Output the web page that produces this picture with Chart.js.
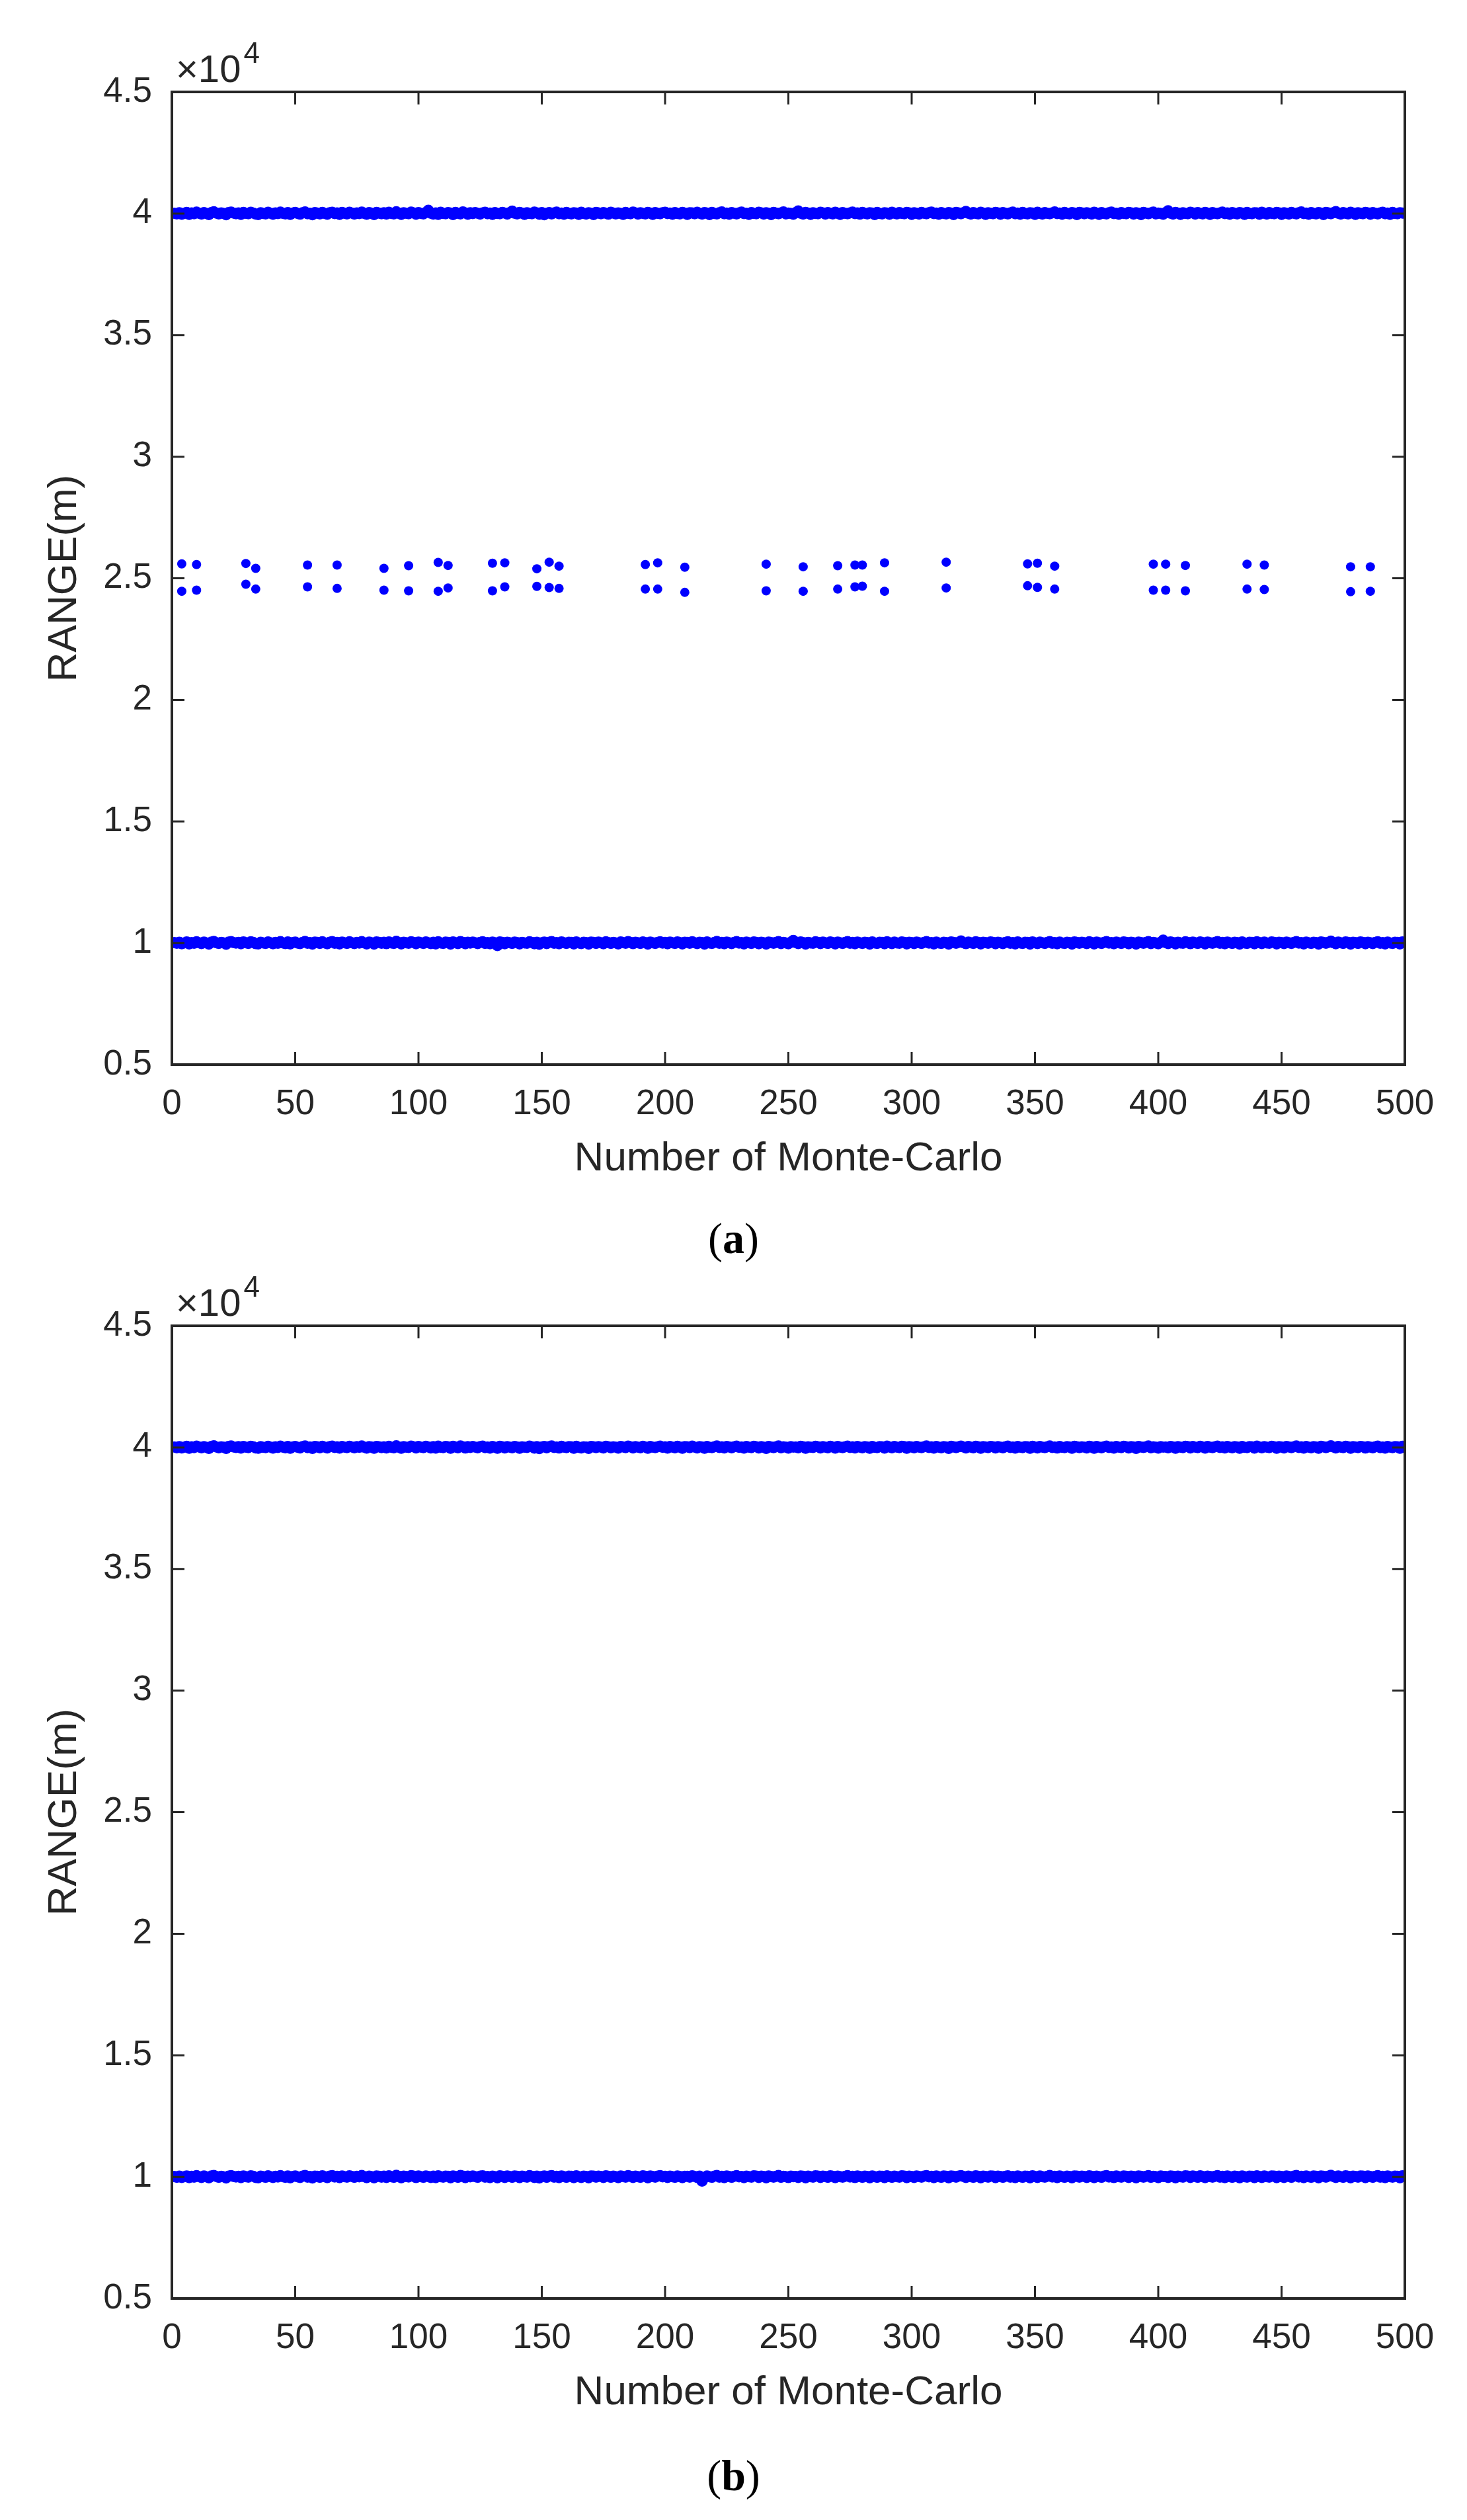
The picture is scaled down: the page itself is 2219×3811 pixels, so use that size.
<!DOCTYPE html>
<html><head><meta charset="utf-8">
<script src="https://cdn.jsdelivr.net/npm/chart.js@4.4.1/dist/chart.umd.min.js"></script>
<style>
html,body{margin:0;padding:0;background:#fff;}
body{width:2219px;height:3811px;position:relative;overflow:hidden;}
.wrap{position:absolute;left:0;width:2219px;height:1800px;}
.cap{position:absolute;left:0;width:2219px;text-align:center;font-family:"Liberation Serif","Times New Roman",serif;font-size:66px;color:#000;line-height:66px;}
</style></head><body>
<div class="wrap" style="top:0"><canvas id="ca"></canvas></div>
<div class="wrap" style="top:1866px"><canvas id="cb"></canvas></div>
<div class="cap" style="top:1840px">(<b>a</b>)</div>
<div class="cap" style="top:3711px">(<b>b</b>)</div>
<script>
const xTicks = [0,50,100,150,200,250,300,350,400,450,500];
const yTicks = [5000,10000,15000,20000,25000,30000,35000,40000,45000];
const trials = Array.from({length:500},(_,i)=>i+1);

const aFar = [
40012,39985,40030,39970,40008,40046,39962,40021,39990,40055,40010,39978,40034,40002,39955,40040,40068,40015,39980,40025,40005,39948,40036,40060,40018,
39992,40027,39966,40044,40009,39987,40052,40020,39975,39958,40031,40003,39984,40048,40011,39969,40024,39995,40058,40007,39981,40039,39960,40016,40042,
40001,39973,40029,40066,39989,40013,39952,40037,40019,39983,40047,40006,39971,40033,40054,39994,40022,39964,40041,40008,39986,40050,40015,39977,40026,
39998,40061,40004,39968,40035,40012,39957,40043,40020,39990,40028,39975,40049,40002,39982,40071,40017,39961,40032,40009,39993,40055,40024,39972,40038,
40006,39985,40045,40130,40012,39976,40027,39966,40051,40003,39988,40036,40019,39959,40044,40011,39980,40063,40023,39970,40030,39996,40040,40008,39979,
40025,40052,39987,40014,39965,40037,40005,39990,40047,40020,39974,40031,40098,40010,39983,40042,40017,39962,40028,40004,39992,40056,40021,39969,40034,
39946,40011,40039,39981,40026,40060,39993,40016,39971,40045,40007,39986,40033,40019,39964,40048,40002,39977,40030,40013,39955,40041,40024,39988,40036,
40009,39973,40050,40018,39984,40027,40003,39966,40044,40012,39991,40058,40021,39975,40032,40006,39982,40047,40016,39960,40039,40010,39987,40029,40054,
39996,40020,39970,40037,40005,39983,40046,40014,39963,40031,40022,39989,40052,40008,39976,40035,40017,39958,40043,40001,39985,40028,40066,39993,40019,
39972,40040,40011,39980,40025,40057,39998,40013,39965,40038,40006,39987,40049,40023,39974,40030,40009,39956,40042,40015,39990,40027,40062,39981,40020,
40004,39969,40034,40108,40012,39979,40045,40018,39961,40029,40003,39992,40051,40024,39977,40036,40010,39984,40048,40016,39966,40039,40007,39988,40026,
40059,39995,40021,39973,40041,40008,39982,40033,40015,39959,40044,40002,39986,40030,40020,39970,40053,40011,39980,40037,40005,39990,40047,40025,39964,
40032,40013,39978,40042,40009,39987,40028,40061,39996,40018,39968,40040,40004,39983,40035,40016,39957,40046,40022,39991,40029,40087,40010,39975,40038,
40006,39984,40050,40019,39962,40031,40012,39989,40044,40024,39972,40036,40008,39981,40027,40055,39993,40015,39967,40043,40003,39986,40032,40020,39960,
40048,40011,39977,40039,40007,39988,40025,40063,39995,40017,39971,40041,40002,39985,40034,40014,39958,40045,40023,39990,40030,40009,39976,40052,40018,
39963,40037,40005,39983,40028,40057,39997,40012,39969,40040,40006,39987,40046,40021,39974,40033,40010,39956,40042,40016,39992,40026,40060,39980,40019,
40003,39970,40035,40114,40013,39978,40044,40017,39962,40030,40004,39991,40050,40025,39975,40037,40009,39985,40047,40015,39965,40038,40008,39989,40027,
40058,39994,40022,39972,40040,40007,39983,40034,40014,39960,40043,40001,39988,40031,40021,39969,40052,40012,39979,40036,40004,39991,40046,40024,39963,
40033,40012,39977,40041,40010,39986,40029,40062,39997,40017,39967,40039,40005,39982,40034,40017,39958,40045,40021,39990,40028,40077,40011,39974,40037,
40007,39985,40049,40020,39961,40032,40013,39988,40043,40023,39971,40035,40009,39980,40026,40054,39992,40016,39966,40042,40004,39987,40031,40019,40010
];
const aNear = [
10015,9988,10032,9972,10006,10044,9965,10020,9991,10053,10008,9976,10036,10001,9957,10038,10066,10013,9982,10027,10003,9950,10034,10058,10016,
9994,10025,9968,10042,10011,9985,10050,10022,9973,9960,10029,10005,9982,10046,10009,9971,10026,9993,10060,10005,9979,10041,9962,10014,10040,
9999,9975,10027,10064,9987,10015,9954,10035,10021,9981,10049,10004,9969,10031,10056,9992,10024,9966,10039,10010,9984,10052,10013,9979,10024,
10000,10059,10006,9966,10037,10010,9959,10041,10022,9988,10030,9973,10047,10004,9980,10069,10019,9963,10030,10011,9991,10053,10026,9970,10036,
10008,9983,10043,10012,9974,10029,9964,10049,10005,9986,10034,10021,9957,10042,10013,9978,10061,10025,9968,10032,9994,10038,10010,9977,10027,
10050,9985,10016,9967,10035,10007,9892,10045,10022,9972,10033,10010,9981,10040,10019,9960,10026,10006,9990,10054,10023,9967,10032,9948,10013,
10037,9979,10028,10058,9991,10018,9969,10043,10009,9984,10031,10021,9962,10046,10004,9975,10028,10015,9953,10039,10026,9986,10034,10011,9971,
10048,10020,9982,10025,10005,9964,10042,10014,9989,10056,10023,9973,10030,10008,9980,10045,10018,9958,10037,10012,9985,10027,10052,9998,10022,
9968,10035,10007,9981,10044,10016,9961,10029,10024,9987,10050,10010,9974,10033,10019,9956,10041,10003,9983,10026,10064,9991,10021,9970,10038,
10013,9978,10023,10055,10000,10015,9963,10036,10008,9985,10047,10025,9972,10028,10011,9954,10040,10017,9988,10025,10060,9979,10022,10006,9967,
10032,10105,10014,9977,10043,10020,9959,10027,10005,9990,10049,10026,9975,10034,10011,9982,10046,10018,9964,10036,10009,9986,10024,10057,9993,
10023,9971,10039,10010,9980,10031,10017,9957,10042,10004,9984,10028,10022,9968,10051,10013,9978,10035,10006,9988,10045,10027,9962,10030,10015,
9976,10040,10011,9985,10026,10059,9997,10020,9966,10038,10006,9981,10033,10018,9955,10044,10024,9989,10027,10085,10012,9973,10036,10008,9982,
10048,10021,9960,10029,10014,9987,10042,10025,9970,10033,10010,9979,10024,10052,9991,10017,9965,10041,10005,9984,10030,10022,9958,10046,10013,
9975,10037,10009,9986,10023,10061,9993,10019,9969,10039,10004,9983,10032,10016,9956,10043,10025,9988,10028,10011,9974,10050,10020,9961,10035,
10007,9981,10026,10055,9995,10014,9967,10038,10008,9985,10044,10023,9972,10031,10012,9954,10040,10018,9990,10024,10058,9978,10021,10005,9968,
10033,10120,10015,9976,10042,10019,9960,10028,10006,9989,10048,10027,9973,10035,10011,9983,10045,10017,9963,10036,10010,9987,10025,10056,9992,
10024,9970,10038,10009,9981,10032,10016,9958,10041,10003,9986,10029,10023,9967,10050,10014,9977,10034,10006,9989,10044,10026,9961,10031,10014,
9975,10039,10012,9984,10027,10060,9995,10019,9965,10037,10007,9980,10032,10019,9956,10043,10023,9988,10026,10075,10013,9972,10035,10009,9983,
10047,10022,9959,10030,10015,9986,10041,10025,9969,10033,10011,9978,10024,10052,9990,10018,9964,10040,10006,9985,10029,10021,9960,10046,10008
];
const bFar = [
40018,39983,40028,39974,40010,40042,39966,40025,39988,40051,40014,39980,40032,40005,39958,40036,40062,40017,39984,40023,40008,39953,40034,40056,40020,
39995,40029,39969,40040,40012,39990,40047,40023,39978,39962,40033,40006,39987,40044,40013,39972,40027,39998,40054,40010,39984,40037,39964,40019,40039,
40004,39976,40031,40061,39992,40016,39956,40035,40022,39986,40044,40009,39974,40030,40052,39997,40025,39967,40038,40011,39989,40046,40018,39980,40028,
40001,40057,40007,39971,40033,40015,39961,40040,40023,39993,40026,39978,40045,40005,39985,40066,40020,39964,40030,40012,39996,40051,40027,39975,40036,
40009,39988,40041,40015,39977,40030,39968,40048,40006,39991,40034,40022,39962,40041,40014,39983,40059,40026,39973,40031,39999,40037,40011,39982,40028,
40049,39990,40017,39970,40034,40008,39963,40043,40023,39977,40032,40012,39985,40039,40020,39965,40026,40009,39994,40052,40024,39972,40031,39952,40015,
40036,39982,40029,40055,39994,40019,39973,40041,40010,39988,40030,40022,39966,40044,40006,39979,40027,40016,39958,40037,40027,39990,40033,40013,39975,
40046,40021,39986,40026,40008,39969,40040,40015,39993,40053,40024,39978,40030,40010,39984,40043,40019,39962,40036,40013,39989,40027,40050,40001,40023,
39972,40034,40009,39985,40042,40017,39965,40029,40025,39991,40048,40012,39978,40033,40020,39960,40039,40005,39987,40026,40061,39994,40022,39974,40037,
40015,39982,40023,40053,40003,40016,39967,40035,40010,39989,40045,40026,39976,40028,40013,39958,40039,40018,39992,40025,40057,39983,40022,40008,39971,
40032,40009,40015,39981,40041,40021,39963,40027,40007,39994,40047,40027,39979,40033,40013,39986,40044,40019,39968,40035,40011,39990,40024,40054,39996,
40023,39975,40037,40012,39984,40031,40018,39961,40040,40006,39988,40028,40023,39972,40049,40015,39982,40034,40008,39992,40043,40028,39966,40030,40016,
39980,40038,40013,39989,40026,40056,40000,40021,39970,40037,40008,39985,40032,40019,39959,40042,40025,39993,40027,40051,40014,39977,40035,40010,39986,
40046,40022,39964,40029,40016,39991,40040,40026,39974,40032,40012,39983,40024,40049,39994,40018,39969,40039,40007,39988,40030,40023,39962,40044,40015,
39979,40036,40011,39990,40023,40058,39996,40020,39973,40038,40006,39987,40031,40017,39960,40041,40026,39992,40027,40013,39978,40047,40021,39965,40034,
40009,39985,40026,40052,39998,40015,39971,40037,40010,39989,40042,40024,39976,40030,40014,39958,40039,40019,39994,40024,40055,39982,40021,40007,39972,
40033,40012,40016,39980,40040,40020,39964,40028,40008,39993,40046,40028,39977,40034,40012,39987,40043,40018,39967,40035,40012,39991,40025,40053,39995,
40024,39974,40037,40011,39985,40031,40017,39962,40039,40005,39990,40028,40024,39971,40048,40016,39981,40033,40008,39993,40042,40027,39965,40030,40016,
39979,40037,40014,39988,40026,40057,39998,40021,39969,40036,40009,39984,40032,40020,39960,40041,40024,39992,40026,40064,40014,39976,40034,40011,39987,
40045,40023,39963,40029,40017,39990,40040,40026,39973,40032,40013,39982,40024,40050,39993,40019,39968,40039,40008,39989,40030,40022,39964,40043,40016
];
const bNear = [
10019,9985,10029,9975,10012,10040,9968,10023,9990,10049,10012,9979,10034,10004,9960,10035,10060,10015,9985,10024,10006,9955,10032,10054,10018,
9996,10027,9971,10039,10013,9988,10045,10021,9976,9963,10031,10008,9985,10042,10011,9974,10025,9996,10052,10008,9982,10036,9966,10017,10037,
10002,9978,10029,10058,9990,10017,9958,10033,10024,9984,10046,10007,9972,10029,10050,9995,10023,9969,10036,10013,9987,10044,10016,9982,10026,
10003,10055,10009,9969,10031,10013,9962,10038,10025,9991,10028,9976,10043,10007,9983,10063,10021,9966,10028,10014,9994,10049,10029,9973,10034,
10011,9986,10039,10017,9979,10032,9970,10046,10008,9989,10032,10024,9964,10039,10016,9981,10057,10028,9971,10030,10001,10035,10013,9980,10030,
10047,9988,10015,9972,10032,10010,9965,10041,10025,9975,10034,10014,9983,10037,10022,9967,10028,10011,9992,10050,10026,9974,10033,9956,10017,
10034,9980,10031,10053,9992,10021,9971,10039,10012,9986,10028,10024,9968,10042,10008,9977,10029,10018,9960,10035,10029,9988,10031,10015,9977,
10044,10023,9984,10028,10010,9971,10038,10017,9991,10051,10026,9976,10032,10012,9982,10041,10021,9964,10034,10015,9987,10029,10048,10003,10025,
9974,10032,10011,9983,10040,10019,9967,10027,10023,9989,10046,10014,9976,10031,9830,9962,10037,10007,9985,10028,10059,9992,10024,9972,10035,
10017,9980,10025,10051,10005,10018,9969,10033,10012,9987,10043,10028,9974,10030,10015,9960,10037,10020,9990,10027,10055,9981,10024,10010,9973,
10030,10007,10017,9979,10039,10023,9965,10029,10009,9992,10045,10029,9977,10031,10015,9984,10042,10021,9970,10033,10013,9988,10026,10052,9994,
10025,9973,10035,10014,9982,10033,10020,9963,10038,10008,9986,10030,10025,9970,10047,10017,9980,10032,10010,9990,10041,10030,9968,10028,10018,
9978,10036,10015,9987,10028,10054,10002,10023,9972,10035,10010,9983,10034,10021,9961,10040,10027,9991,10029,10049,10016,9975,10033,10012,9984,
10044,10024,9966,10031,10018,9989,10038,10028,9972,10030,10014,9981,10026,10047,9992,10020,9971,10037,10009,9986,10032,10025,9964,10042,10017,
9977,10034,10013,9988,10025,10056,9994,10022,9971,10036,10008,9985,10033,10019,9962,10039,10028,9990,10029,10015,9976,10045,10023,9967,10032,
10011,9983,10028,10050,9996,10017,9973,10035,10012,9987,10040,10026,9974,10032,10016,9960,10037,10021,9992,10026,10053,9980,10023,10009,9970,
10035,10014,10018,9978,10038,10022,9966,10030,10010,9991,10044,10030,9975,10036,10014,9985,10041,10020,9969,10033,10014,9989,10027,10051,9993,
10026,9972,10035,10013,9983,10033,10019,9964,10037,10007,9988,10030,10026,9969,10046,10018,9979,10035,10010,9991,10040,10029,9967,10032,10018,
9977,10035,10016,9986,10028,10055,10000,10023,9971,10034,10011,9982,10034,10022,9962,10039,10026,9990,10028,10062,10016,9974,10036,10013,9985,
10043,10025,9965,10031,10019,9988,10038,10028,9971,10034,10015,9980,10026,10048,9991,10021,9970,10037,10010,9987,10032,10024,9966,10041,10018
];
const sparseX = [4,10,30,34,55,67,86,96,108,112,130,135,148,153,157,192,197,208,241,256,270,277,280,289,314,347,351,358,398,403,411,436,443,478,486];
const sparseHigh = [25590,25563,25608,25408,25544,25544,25408,25517,25653,25526,25617,25635,25390,25662,25499,25563,25635,25454,25581,25472,
25517,25544,25544,25635,25662,25590,25617,25499,25581,25581,25526,25581,25544,25472,25472];
const sparseLow = [24465,24510,24757,24556,24646,24583,24510,24483,24465,24601,24483,24646,24665,24619,24583,24556,24556,24420,24483,24465,
24556,24646,24674,24465,24601,24692,24628,24556,24510,24510,24483,24556,24537,24447,24465];

const BLUE = '#0000FF', AX = '#262626';
const boxPlugin = {
  id:'box',
  afterDraw(c){
    const {ctx, chartArea:a, scales:{x,y}} = c;
    ctx.save();
    ctx.strokeStyle = AX; ctx.lineWidth = 4;
    ctx.strokeRect(a.left, a.top, a.right-a.left, a.bottom-a.top);
    ctx.lineWidth = 3;
    const L = 19;
    ctx.beginPath();
    xTicks.forEach(v=>{const p=x.getPixelForValue(v); ctx.moveTo(p,a.bottom); ctx.lineTo(p,a.bottom-L); ctx.moveTo(p,a.top); ctx.lineTo(p,a.top+L);});
    yTicks.forEach(v=>{const p=y.getPixelForValue(v); ctx.moveTo(a.left,p); ctx.lineTo(a.left+L,p); ctx.moveTo(a.right,p); ctx.lineTo(a.right-L,p);});
    ctx.stroke();
    ctx.fillStyle = AX; ctx.textBaseline='alphabetic'; ctx.textAlign='left';
    ctx.font = '58px "Liberation Sans", Arial, sans-serif';
    ctx.fillText('\u00d710', a.left+6, a.top-15);
    const w = ctx.measureText('\u00d710').width;
    ctx.font = '44px "Liberation Sans", Arial, sans-serif';
    ctx.fillText('4', a.left+6+w+4, a.top-44);
    ctx.restore();
  }
};
function pts(ys){ return ys.map((v,i)=>({x:trials[i], y:v})); }
function make(id, sets){
  const ds = sets.map((d,k)=>({data:d, backgroundColor:BLUE, borderColor:BLUE, pointRadius:k<2?8.5:7, pointBorderWidth:0, showLine:false}));
  return new Chart(document.getElementById(id), {
    type:'scatter',
    data:{datasets:ds},
    options:{
      responsive:false, animation:false, devicePixelRatio:1,
      plugins:{legend:{display:false}, tooltip:{enabled:false}},
      layout:{padding:{top:139,right:94,left:0,bottom:0}},
      scales:{
        x:{type:'linear', min:0, max:500,
          afterBuildTicks(s){ s.ticks = xTicks.map(v=>({value:v})); },
          afterFit(s){ s.height = 190; },
          grid:{display:false, drawTicks:false}, border:{display:false},
          ticks:{padding:29, color:AX, font:{family:'"Liberation Sans", Arial, sans-serif', size:53}, maxRotation:0},
          title:{display:true, text:'Number of Monte-Carlo', color:AX, padding:10, font:{family:'"Liberation Sans", Arial, sans-serif', size:62}}
        },
        y:{type:'linear', min:5000, max:45000,
          afterBuildTicks(s){ s.ticks = yTicks.map(v=>({value:v})); },
          afterFit(s){ s.width = 260; },
          grid:{display:false, drawTicks:false}, border:{display:false},
          ticks:{padding:30, color:AX, font:{family:'"Liberation Sans", Arial, sans-serif', size:53}, callback:v=>String(v/10000)},
          title:{display:true, text:'RANGE(m)', color:AX, padding:61, font:{family:'"Liberation Sans", Arial, sans-serif', size:62}}
        }
      }
    },
    plugins:[boxPlugin]
  });
}
for (const id of ['ca','cb']) { const c=document.getElementById(id); c.width=2219; c.height=1800; c.style.width='2219px'; c.style.height='1800px'; }
make('ca', [pts(aFar), pts(aNear), sparseX.map((x,i)=>({x, y:sparseHigh[i]})), sparseX.map((x,i)=>({x, y:sparseLow[i]}))]);
make('cb', [pts(bFar), pts(bNear)]);
</script></body></html>
